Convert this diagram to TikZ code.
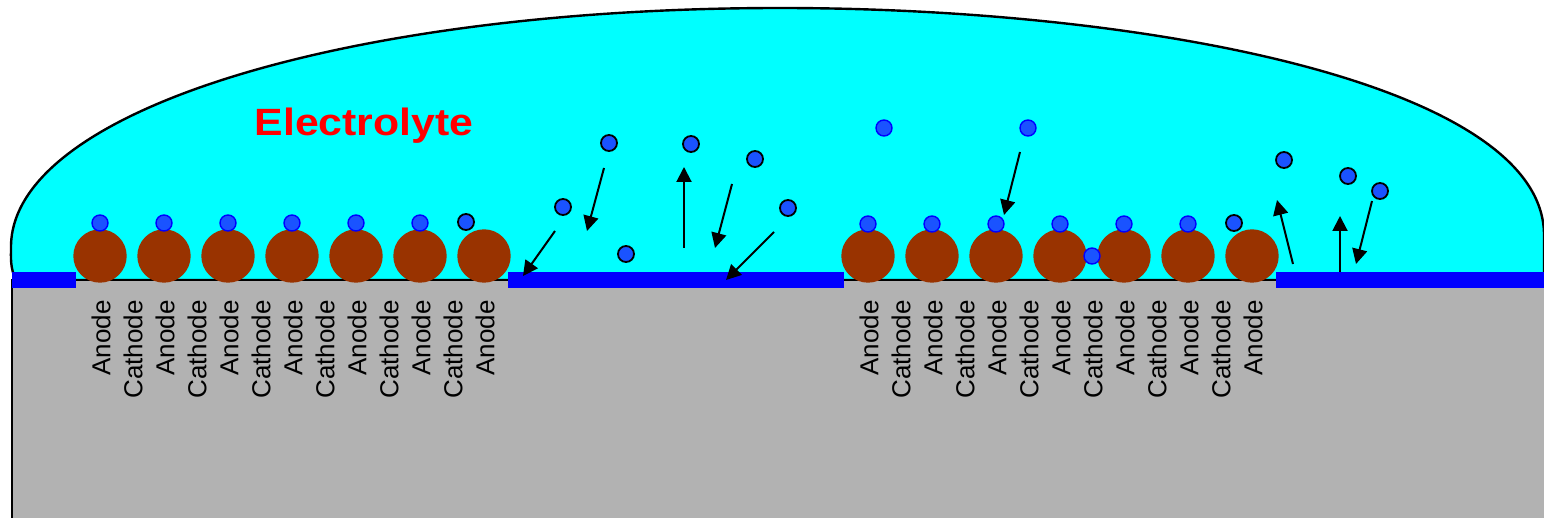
\documentclass[tikz,border=0pt]{standalone}
\usepackage{fontspec}
\setmainfont{Liberation Sans}
\usetikzlibrary{arrows.meta}
\definecolor{electrolyte}{RGB}{0,255,255}
\definecolor{substrate}{RGB}{178,178,178}
\definecolor{pad}{RGB}{0,0,255}
\definecolor{grain}{RGB}{153,51,0}
\definecolor{ion}{RGB}{26,83,255}
\definecolor{labelred}{RGB}{255,0,0}
\begin{document}
\begin{tikzpicture}[x=1pt,y=-1pt,
  grainball/.style={circle,fill=grain,minimum size=53.4pt,inner sep=0pt},
  ionbound/.style={circle,fill=ion,draw=pad,line width=1.4pt,minimum size=16pt,inner sep=0pt},
  ionfree/.style={circle,fill=ion,draw=black,line width=1.8pt,minimum size=16pt,inner sep=0pt},
  flux/.style={line width=2pt,-{Triangle[length=15pt,width=15pt]}},
  electrode/.style={rotate=90,anchor=east,inner sep=0pt,font=\fontsize{26}{26}\selectfont}
]
\useasboundingbox (0,0) rectangle (1544,518);

% electrolyte droplet
\draw[fill=electrolyte,line width=2.4pt]
  (16,280) .. controls (10,268) and (11,258) .. (11,247)
  .. controls (11,110) and (350,8) .. (780,8)
  .. controls (1150,8) and (1544,85) .. (1544,235)
  -- (1544,280) -- cycle;

% substrate
\fill[substrate] (12,280) rectangle (1560,530);
\draw[line width=2pt] (12,530) -- (12,280) -- (1560,280);

% metal pads
\fill[pad] (12,272) rectangle (76,288);
\fill[pad] (508,272) rectangle (844,288);
\fill[pad] (1276,272) rectangle (1560,288);

% electrolyte label
\node[font=\fontsize{38}{38}\selectfont\bfseries,text=labelred,anchor=base,inner sep=0pt,xscale=1.125] (title) at (364,136) {Electrolyte};

% grains
\foreach \i in {0,...,6}{
  \node[grainball] (gL\i) at ({100+64*\i},256) {};
  \node[grainball] (gR\i) at ({868+64*\i},256) {};
}

% ions bound to grains
\foreach \i in {0,...,5}{
  \node[ionbound] (bL\i) at ({100+64*\i},223) {};
  \node[ionbound] (bR\i) at ({868+64*\i},224) {};
}
\node[ionfree] (bL6) at (466,222) {};
\node[ionfree] (bR6) at (1234,223) {};
\node[ionbound] (bR7) at (1092,256) {};

% free ions
\node[ionfree] (f1) at (609,143) {};
\node[ionfree] (f2) at (563,207) {};
\node[ionfree] (f3) at (626,254) {};
\node[ionfree] (f4) at (691,144) {};
\node[ionfree] (f5) at (755,159) {};
\node[ionfree] (f6) at (788,208) {};
\node[ionbound] (f7) at (884,128) {};
\node[ionbound] (f8) at (1028,128) {};
\node[ionfree] (f9) at (1284,160) {};
\node[ionfree] (f10) at (1348,176) {};
\node[ionfree] (f11) at (1380,191) {};

% ion motion
\coordinate (m1a) at (555,231);  \coordinate (m1b) at (523,276);
\coordinate (m2a) at (604,168);  \coordinate (m2b) at (587,231);
\coordinate (m3a) at (684,248);  \coordinate (m3b) at (684,167);
\coordinate (m4a) at (732,184);  \coordinate (m4b) at (715,248);
\coordinate (m5a) at (774,232);  \coordinate (m5b) at (726,280);
\coordinate (m6a) at (1020,152); \coordinate (m6b) at (1004,215);
\coordinate (m7a) at (1293,264); \coordinate (m7b) at (1277,200);
\coordinate (m8a) at (1340,272); \coordinate (m8b) at (1340,216);
\coordinate (m9a) at (1372,201); \coordinate (m9b) at (1356,264);
\foreach \k in {1,...,9}{
  \draw[flux] (m\k a) -- (m\k b);
}

% electrode labels
\foreach \i in {0,...,12}{
  \ifodd\i \def\lbl{Cathode}\else\def\lbl{Anode}\fi
  \node[electrode] (tL\i) at ({101+32*\i},300) {\lbl};
  \node[electrode] (tR\i) at ({869+32*\i},300) {\lbl};
}
\end{tikzpicture}
\end{document}
